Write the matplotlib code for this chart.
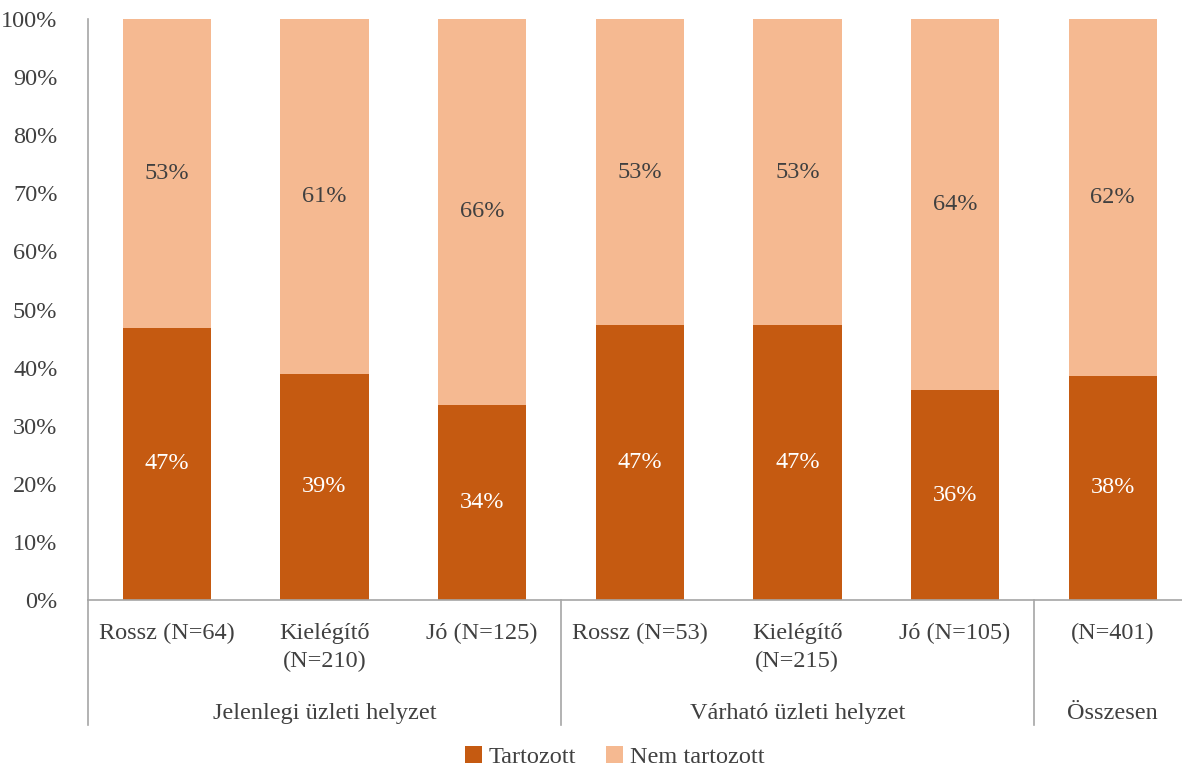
import matplotlib.pyplot as plt
from matplotlib.lines import Line2D

categories = ['Rossz (N=64)', 'Kielégítő\n(N=210)', 'Jó (N=125)',
              'Rossz (N=53)', 'Kielégítő\n(N=215)', 'Jó (N=105)', '(N=401)']
groups = ['Jelenlegi üzleti helyzet', 'Várható üzleti helyzet', 'Összesen']
group_spans = [(0, 2), (3, 5), (6, 6)]
tartozott = [46.9, 38.9, 33.6, 47.3, 47.3, 36.1, 38.6]
tartozott_lbl = ['47%', '39%', '34%', '47%', '47%', '36%', '38%']
nem_lbl = ['53%', '61%', '66%', '53%', '53%', '64%', '62%']

plt.rcParams['font.family'] = ['Liberation Serif', 'DejaVu Serif']
plt.rcParams['font.size'] = 17.5
txt = '#404040'
dark = '#C55A11'
light = '#F5B991'

fig = plt.figure(figsize=(11.82, 7.67), dpi=100)
ax = fig.add_axes([88 / 1182, 167 / 767, 1 - 88 / 1182, 581 / 767])

x = list(range(len(categories)))
nem = [100 - v for v in tartozott]
ax.bar(x, tartozott, width=0.56, color=dark, label='Tartozott')
ax.bar(x, nem, width=0.56, bottom=tartozott, color=light, label='Nem tartozott')

for i in x:
    ax.text(i, tartozott[i] / 2, tartozott_lbl[i], ha='center', va='center',
            color='white')
    ax.text(i, tartozott[i] + nem[i] / 2, nem_lbl[i], ha='center', va='center',
            color=txt)

ax.set_xlim(-0.5, 6.44)
ax.set_ylim(0, 100)
ax.set_yticks(range(0, 101, 10))
ax.set_yticklabels([f'{v}%' for v in range(0, 101, 10)], color=txt)
ax.tick_params(axis='y', length=0, pad=22)
ax.set_xticks([])
for s in ['top', 'right']:
    ax.spines[s].set_visible(False)
for s in ['left', 'bottom']:
    ax.spines[s].set_color('#a6a6a6')
    ax.spines[s].set_linewidth(1.2)

# category labels below the axis
for i, c in enumerate(categories):
    ax.text(i, -0.04, c, transform=ax.get_xaxis_transform(), ha='center',
            va='top', color=txt, linespacing=1.4)

# group labels and separators
for g, (a, b) in zip(groups, group_spans):
    ax.text((a + b) / 2, -0.195, g, transform=ax.get_xaxis_transform(),
            ha='center', va='center', color=txt)
for sep in [-0.5, 2.5, 5.5]:
    ax.add_line(Line2D([sep, sep], [0, -125 / 581], transform=ax.get_xaxis_transform(),
                       color='#a6a6a6', lw=1.2, clip_on=False))

fig.legend(loc='lower center', bbox_to_anchor=(0.52, -0.03), ncol=2, frameon=False,
           handlelength=0.7, handleheight=0.7, handletextpad=0.3, columnspacing=1.2,
           labelcolor=txt)

fig.savefig('out.png', dpi=100)
